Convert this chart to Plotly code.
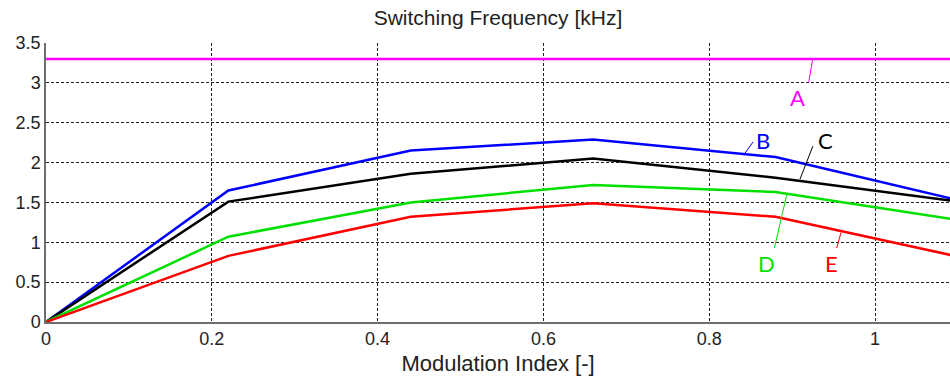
import plotly.graph_objects as go

# Data
mod_index = [0, 0.22, 0.44, 0.66, 0.88, 1.1]
series_A = [3.3, 3.3, 3.3, 3.3, 3.3, 3.3]
series_B = [0, 1.65, 2.15, 2.29, 2.07, 1.53]
series_C = [0, 1.51, 1.86, 2.05, 1.81, 1.51]
series_D = [0, 1.07, 1.50, 1.72, 1.63, 1.28]
series_E = [0, 0.83, 1.32, 1.49, 1.32, 0.82]
series_names = ["A", "B", "C", "D", "E"]
series_colors = ["#ff00ff", "#0000ff", "#000000", "#00e000", "#ff0000"]
x_ticks = [0, 0.2, 0.4, 0.6, 0.8, 1]
y_ticks = [0, 0.5, 1, 1.5, 2, 2.5, 3, 3.5]

# Label placement (text position, leader start, leader end)
label_text_pos = {"A": (0.907, 2.82), "B": (0.865, 2.28), "C": (0.940, 2.28),
                  "D": (0.869, 0.74), "E": (0.948, 0.74)}
leader_lines = {"A": (0.925, 3.306, 0.920, 3.006), "B": (0.853, 2.26, 0.843, 2.115),
                "C": (0.925, 2.206, 0.9095, 1.79), "D": (0.8935, 1.594, 0.8786, 0.927),
                "E": (0.959, 1.1225, 0.9538, 0.927)}

all_series = [series_A, series_B, series_C, series_D, series_E]

fig = go.Figure()
for name, vals, col in zip(series_names, all_series, series_colors):
    fig.add_trace(go.Scatter(x=mod_index, y=vals, mode="lines", name=name,
                             line=dict(color=col, width=2.5), showlegend=False))

for name, col in zip(series_names, series_colors):
    tx, ty = label_text_pos[name]
    fig.add_annotation(x=tx, y=ty, text=name, showarrow=False,
                       font=dict(family="Lato, Liberation Sans, sans-serif", size=22, color=col))
    x0, y0, x1, y1 = leader_lines[name]
    fig.add_shape(type="line", x0=x0, y0=y0, x1=x1, y1=y1, xref="x", yref="y",
                  line=dict(color=col, width=1))

axis_common = dict(showgrid=True, gridcolor="#222222", griddash="3px,2px", gridwidth=1,
                   zeroline=False, showline=True, linecolor="#6e6e6e", linewidth=1.5,
                   ticks="", tickfont=dict(family="Liberation Sans, Arial, sans-serif",
                                           size=18, color="#222222"))

fig.update_xaxes(range=[0, 904 / 829], tickvals=x_ticks, ticktext=[str(t) for t in x_ticks],
                 title=dict(text="Modulation Index [-]", standoff=7,
                            font=dict(family="Liberation Sans, Arial, sans-serif", size=22,
                                      color="#222222")),
                 **axis_common)
fig.update_yaxes(range=[0, 3.5], tickvals=y_ticks, ticktext=[str(t) for t in y_ticks],
                 **axis_common)

fig.update_layout(
    width=950, height=383,
    margin=dict(l=46, r=0, t=42.5, b=60.5),
    paper_bgcolor="white", plot_bgcolor="white",
    title=dict(text="Switching Frequency [kHz]", x=0.5 + 23 / 950, xanchor="center",
               y=1 - 18 / 383, yanchor="middle",
               font=dict(family="Liberation Sans, Arial, sans-serif", size=21, color="#222222")),
)

fig.write_html("out.html")
